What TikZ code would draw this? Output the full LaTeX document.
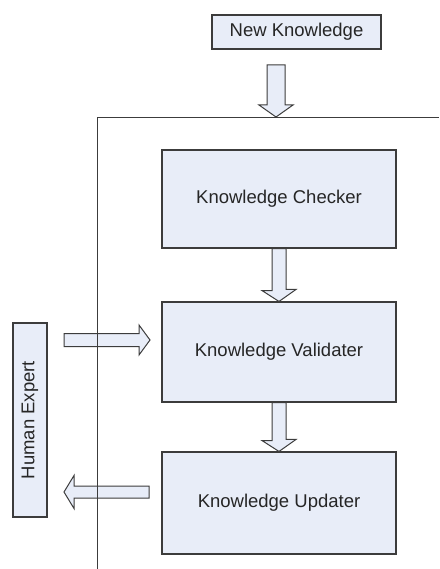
\documentclass[tikz,border=0pt]{standalone}
\usepackage{fontspec}
\setmainfont{Liberation Sans}
\usetikzlibrary{calc}
\definecolor{boxfill}{RGB}{232,237,248}
\definecolor{linecol}{RGB}{60,60,60}
\tikzset{
  blk/.style={draw=linecol, line width=1.1pt, fill=boxfill, inner sep=0pt,
    font=\fontsize{18.5}{21}\selectfont, text=black!85},
  barrow/.style={draw=linecol, line width=1pt, fill=boxfill, line join=miter},
  frame/.style={draw=linecol, line width=1pt}
}
\begin{document}
\begin{tikzpicture}[x=1pt,y=-1pt]
\useasboundingbox (0,0) rectangle (439,569);
\node[blk, minimum width=169pt, minimum height=34pt] (nk) at (296.5,32) {New Knowledge};
\node[blk, minimum width=234pt, minimum height=98pt] (checker) at (279,199) {Knowledge Checker};
\node[blk, minimum width=234pt, minimum height=100pt] (validater) at (279,352) {Knowledge Validater};
\node[blk, minimum width=234pt, minimum height=102pt] (updater) at (279,503) {Knowledge Updater};
\node[blk, minimum width=194pt, minimum height=34pt, rotate=90] (human) at (30,420) {Human Expert};
\coordinate (in1) at (276,117);
\coordinate (ra) at (150,340);
\coordinate (la) at (64,492);
% block arrows
\draw[barrow] (in1) -- ++(-17,-12) -- ++(8,0) -- ++(0,-40) -- ++(18,0) -- ++(0,40) -- ++(8,0) -- cycle;
\draw[barrow] ([xshift=-7pt]checker.south) -- ++(0,42) -- ++(-10,0) -- (validater.north) -- ++(17,-12) -- ++(-10,0) -- ([xshift=7pt]checker.south) -- cycle;
\draw[barrow] ([xshift=-7pt]validater.south) -- ++(0,38) -- ++(-10,0) -- (updater.north) -- ++(17,-12) -- ++(-10,0) -- ([xshift=7pt]validater.south) -- cycle;
\draw[barrow] (ra) -- ++(-11,-15) -- ++(0,8.5) -- ++(-75,0) -- ++(0,13) -- ++(75,0) -- ++(0,8.5) -- cycle;
\draw[barrow] (la) -- ++(10,-16.5) -- ++(0,10.5) -- ++(75,0) -- ++(0,12) -- ++(-75,0) -- ++(0,10.5) -- cycle;
% frame
\coordinate (fb) at (97,569);
\coordinate (fc) at (97,118);
\coordinate (fr) at (439,118);
\draw[frame] (fb) -- (fc) -- (fr);
\end{tikzpicture}
\end{document}
